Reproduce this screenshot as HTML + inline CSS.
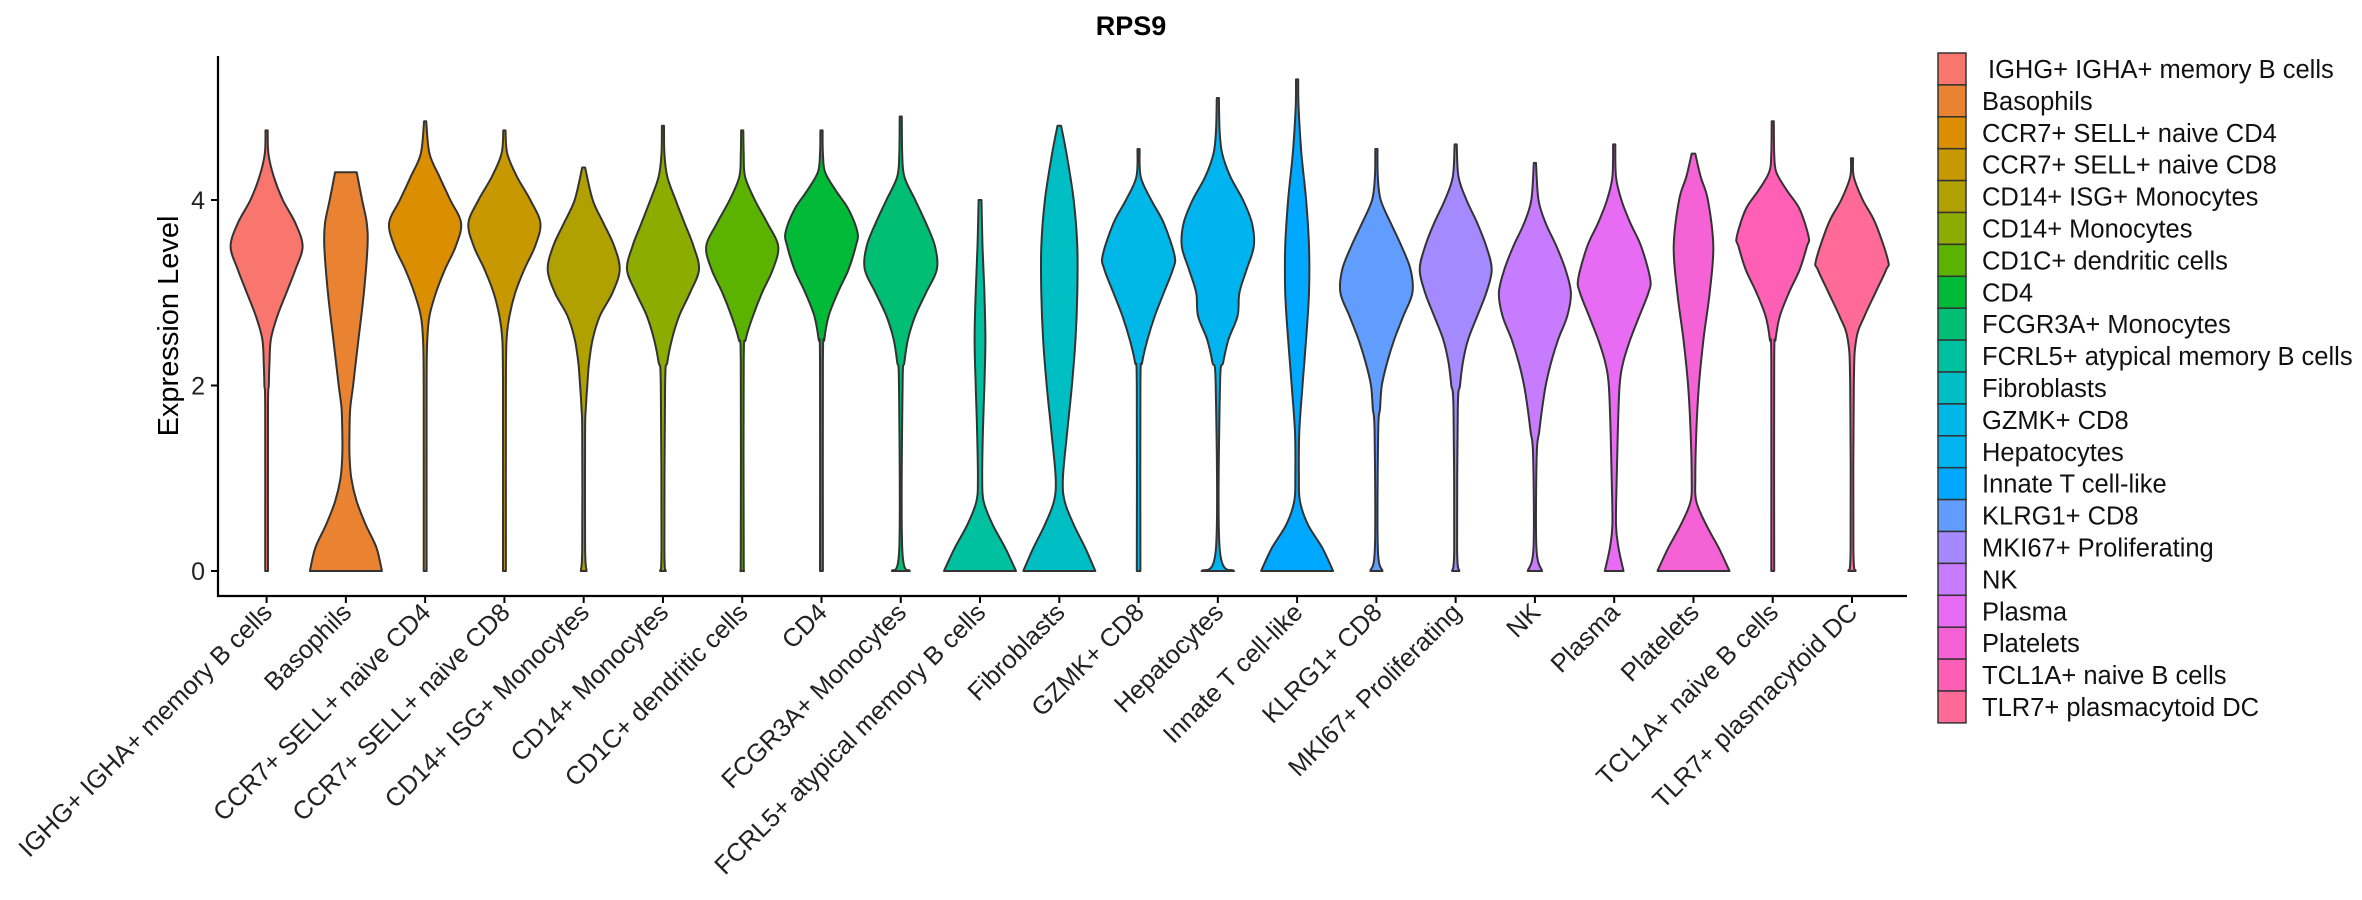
<!DOCTYPE html>
<html><head><meta charset="utf-8">
<style>
html,body{margin:0;padding:0;background:#fff;}
svg{display:block;font-family:"Liberation Sans",sans-serif;}
</style></head>
<body>
<svg id="chart" width="2362" height="900" viewBox="0 0 2362 900">
<text x="1131" y="35" text-anchor="middle" font-size="27" font-weight="bold" fill="#000">RPS9</text>
<text x="0" y="0" transform="translate(178,326) rotate(-90)" text-anchor="middle" font-size="29" fill="#000">Expression Level</text>
<g id="plot"></g>
<g id="legend"></g>
</svg>
<script>
const categories = ["IGHG+ IGHA+ memory B cells","Basophils","CCR7+ SELL+ naive CD4","CCR7+ SELL+ naive CD8","CD14+ ISG+ Monocytes","CD14+ Monocytes","CD1C+ dendritic cells","CD4","FCGR3A+ Monocytes","FCRL5+ atypical memory B cells","Fibroblasts","GZMK+ CD8","Hepatocytes","Innate T cell-like","KLRG1+ CD8","MKI67+ Proliferating","NK","Plasma","Platelets","TCL1A+ naive B cells","TLR7+ plasmacytoid DC"];
const colors = ["#F8766D","#EA8331","#DB8E00","#C79800","#B0A000","#8EAB00","#5BB300","#00BA38","#00BF74","#00C19F","#00BFC4","#00B8E7","#00B4EF","#00A9FF","#619CFF","#A58AFF","#C77CFF","#E76BF3","#F562D6","#FF5FB5","#FF6A98"];
const yTicks = [0, 2, 4];
const tops = [4.75,4.3,4.85,4.75,4.35,4.8,4.75,4.75,4.9,4.0,4.8,4.55,5.1,5.3,4.55,4.6,4.4,4.6,4.5,4.85,4.45];
const densities = [
 [[0,0.04],[1.75,0.04],[2,0.06],[2.25,0.08],[2.5,0.12],[2.75,0.3],[3,0.55],[3.25,0.8],[3.5,1],[3.75,0.8],[4,0.45],[4.25,0.2],[4.5,0.05],[4.75,0.03]],
 [[0,1],[0.25,0.85],[0.5,0.55],[0.75,0.3],[1,0.15],[1.25,0.1],[1.5,0.1],[1.75,0.12],[2,0.2],[2.5,0.35],[3,0.5],[3.5,0.6],[3.75,0.58],[4,0.45],[4.3,0.3]],
 [[0,0.04],[2,0.04],[2.5,0.06],[2.75,0.12],[3,0.3],[3.25,0.55],[3.5,0.85],[3.75,1],[4,0.7],[4.25,0.4],[4.5,0.12],[4.85,0.03]],
 [[0,0.04],[2,0.04],[2.5,0.06],[2.75,0.14],[3,0.3],[3.25,0.55],[3.5,0.85],[3.75,1],[4,0.72],[4.25,0.35],[4.5,0.08],[4.75,0.03]],
 [[0,0.08],[0.25,0.04],[1.5,0.04],[1.75,0.06],[2,0.1],[2.25,0.15],[2.5,0.25],[2.75,0.45],[3,0.8],[3.25,1],[3.5,0.85],[3.75,0.55],[4,0.25],[4.35,0.04]],
 [[0,0.08],[0.25,0.04],[2,0.06],[2.25,0.12],[2.5,0.25],[2.75,0.45],[3,0.75],[3.25,1],[3.5,0.85],[3.75,0.6],[4,0.35],[4.25,0.12],[4.5,0.04],[4.8,0.03]],
 [[0,0.05],[0.25,0.04],[2.25,0.04],[2.5,0.1],[2.75,0.3],[3,0.55],[3.25,0.85],[3.5,1],[3.75,0.7],[4,0.35],[4.25,0.08],[4.5,0.04],[4.75,0.03]],
 [[0,0.04],[2.25,0.04],[2.5,0.08],[2.75,0.2],[3,0.45],[3.25,0.75],[3.5,0.95],[3.65,1],[3.9,0.75],[4.1,0.4],[4.3,0.1],[4.5,0.04],[4.75,0.03]],
 [[0,0.25],[0.25,0.04],[2,0.05],[2.25,0.1],[2.5,0.2],[2.75,0.4],[3,0.7],[3.25,1],[3.5,0.95],[3.75,0.7],[4,0.4],[4.25,0.1],[4.5,0.04],[4.9,0.03]],
 [[0,1],[0.25,0.7],[0.5,0.35],[0.75,0.1],[1,0.06],[1.5,0.08],[2,0.12],[2.5,0.15],[3,0.12],[3.5,0.07],[4,0.04]],
 [[0,1],[0.25,0.72],[0.5,0.4],[0.75,0.15],[1,0.1],[1.5,0.22],[2,0.35],[2.5,0.45],[3,0.5],[3.5,0.5],[4,0.4],[4.5,0.2],[4.8,0.05]],
 [[0,0.05],[2,0.05],[2.25,0.1],[2.5,0.25],[2.75,0.45],[3,0.7],[3.25,0.95],[3.4,1],[3.75,0.7],[4,0.35],[4.25,0.06],[4.55,0.03]],
 [[0,0.45],[0.25,0.05],[2,0.06],[2.25,0.15],[2.5,0.3],[2.75,0.55],[3,0.6],[3.25,0.8],[3.5,1],[3.75,0.95],[4,0.7],[4.25,0.35],[4.5,0.12],[4.75,0.05],[5.1,0.03]],
 [[0,1],[0.25,0.7],[0.5,0.3],[0.75,0.08],[1,0.05],[1.5,0.06],[2,0.15],[2.5,0.25],[3,0.33],[3.5,0.33],[4,0.25],[4.5,0.12],[5,0.04],[5.3,0.03]],
 [[0,0.17],[0.25,0.04],[1.5,0.05],[1.75,0.1],[2,0.15],[2.25,0.3],[2.5,0.5],[2.75,0.75],[3,1],[3.25,0.95],[3.5,0.7],[3.75,0.4],[4,0.12],[4.25,0.04],[4.55,0.03]],
 [[0,0.1],[0.25,0.04],[1.75,0.06],[2,0.12],[2.25,0.2],[2.5,0.35],[2.75,0.6],[3,0.85],[3.25,1],[3.5,0.85],[3.75,0.6],[4,0.3],[4.25,0.08],[4.6,0.03]],
 [[0,0.2],[0.25,0.04],[1.25,0.05],[1.5,0.12],[1.75,0.2],[2,0.3],[2.25,0.45],[2.5,0.65],[2.75,0.9],[3,1],[3.25,0.85],[3.5,0.6],[3.75,0.3],[4,0.1],[4.4,0.03]],
 [[0,0.26],[0.25,0.12],[0.5,0.05],[1,0.07],[1.5,0.1],[2,0.15],[2.25,0.25],[2.5,0.45],[2.75,0.7],[3,0.95],[3.15,1],[3.5,0.75],[3.75,0.45],[4,0.2],[4.25,0.05],[4.6,0.03]],
 [[0,1],[0.25,0.7],[0.5,0.35],[0.75,0.08],[1,0.05],[1.5,0.08],[2,0.15],[2.5,0.28],[3,0.45],[3.5,0.55],[4,0.4],[4.25,0.2],[4.5,0.05]],
 [[0,0.04],[2.25,0.04],[2.5,0.08],[2.75,0.2],[3,0.45],[3.25,0.75],[3.5,0.95],[3.6,1],[3.9,0.75],[4.1,0.4],[4.3,0.1],[4.5,0.04],[4.85,0.03]],
 [[0,0.1],[0.25,0.04],[2,0.05],[2.5,0.12],[2.75,0.35],[3,0.65],[3.25,0.95],[3.35,1],[3.75,0.65],[4,0.3],[4.25,0.05],[4.45,0.03]]
];

const NS = "http://www.w3.org/2000/svg";
const plot = document.getElementById("plot");
const legend = document.getElementById("legend");
const X0 = 266.6, XSTEP = 79.27, Y0 = 571, YUNIT = 92.75, HALF = 36;
function xPos(i){ return X0 + i * XSTEP; }
function yPos(v){ return Y0 - v * YUNIT; }
function mk(tag, attrs){ const e = document.createElementNS(NS, tag); for (const k in attrs) e.setAttribute(k, attrs[k]); return e; }

const yAxis = mk("line", {x1:218, y1:56, x2:218, y2:597, stroke:"#000", "stroke-width":2.2});


plot.appendChild(yAxis);
const xAxis = mk("line", {x1:217, y1:596, x2:1907, y2:596, stroke:"#000", "stroke-width":2.2});


plot.appendChild(xAxis);

yTicks.forEach(t => {
  const y = yPos(t);
  const tk = mk("line", {x1:211, y1:y, x2:218, y2:y, stroke:"#000", "stroke-width":2});
  
  
  plot.appendChild(tk);
  const lb = mk("text", {x:205, y:y + 9, "text-anchor":"end", "font-size":25, fill:"#222"});
  lb.textContent = t;
  
  
  plot.appendChild(lb);
});

function smoothPath(pts){
  let d = "";
  for (let i = 0; i < pts.length - 1; i++) {
    const p0 = pts[Math.max(0, i - 1)], p1 = pts[i], p2 = pts[i + 1], p3 = pts[Math.min(pts.length - 1, i + 2)];
    const c1x = p1[0] + (p2[0] - p0[0]) / 6, c1y = p1[1] + (p2[1] - p0[1]) / 6;
    const c2x = p2[0] - (p3[0] - p1[0]) / 6, c2y = p2[1] - (p3[1] - p1[1]) / 6;
    d += " C" + c1x.toFixed(1) + "," + c1y.toFixed(1) + " " + c2x.toFixed(1) + "," + c2y.toFixed(1) + " " + p2[0].toFixed(1) + "," + p2[1].toFixed(1);
  }
  return d;
}

categories.forEach((name, i) => {
  const cx = xPos(i);
  const dens = densities[i].slice();
  if (dens[dens.length - 1][0] < tops[i]) dens.push([tops[i], 0.03]);
  const left = dens.map(p => [cx - Math.max(p[1] * HALF, 0.9), yPos(p[0])]);
  const right = dens.map(p => [cx + Math.max(p[1] * HALF, 0.9), yPos(p[0])]).reverse();
  let d = "M" + left[0][0].toFixed(1) + "," + left[0][1].toFixed(1) + smoothPath(left);
  d += " L" + right[0][0].toFixed(1) + "," + right[0][1].toFixed(1) + smoothPath(right) + " Z";
  const v = mk("path", {d:d, fill:colors[i], stroke:"#333", "stroke-width":2, "stroke-linejoin":"round"});
  
  
  plot.appendChild(v);

  const tk = mk("line", {x1:cx, y1:596, x2:cx, y2:603, stroke:"#000", "stroke-width":2});
  
  
  plot.appendChild(tk);
  const lb = mk("text", {x:0, y:0, transform:"translate(" + (cx + 7) + ",614) rotate(-45)", "text-anchor":"end", "font-size":25.5, fill:"#222"});
  lb.textContent = name;
  
  
  plot.appendChild(lb);

  const y = 53 + i * 31.9;
  const key = mk("rect", {x:1938, y:y, width:28, height:31.9, fill:colors[i], stroke:"#333", "stroke-width":1.5});
  
  
  legend.appendChild(key);
  const lt = mk("text", {x:(i === 0 ? 1988 : 1982), y:y + 25, "font-size":25.5, fill:"#111"});
  lt.textContent = name;
  
  
  legend.appendChild(lt);
});
</script>
</body></html>
